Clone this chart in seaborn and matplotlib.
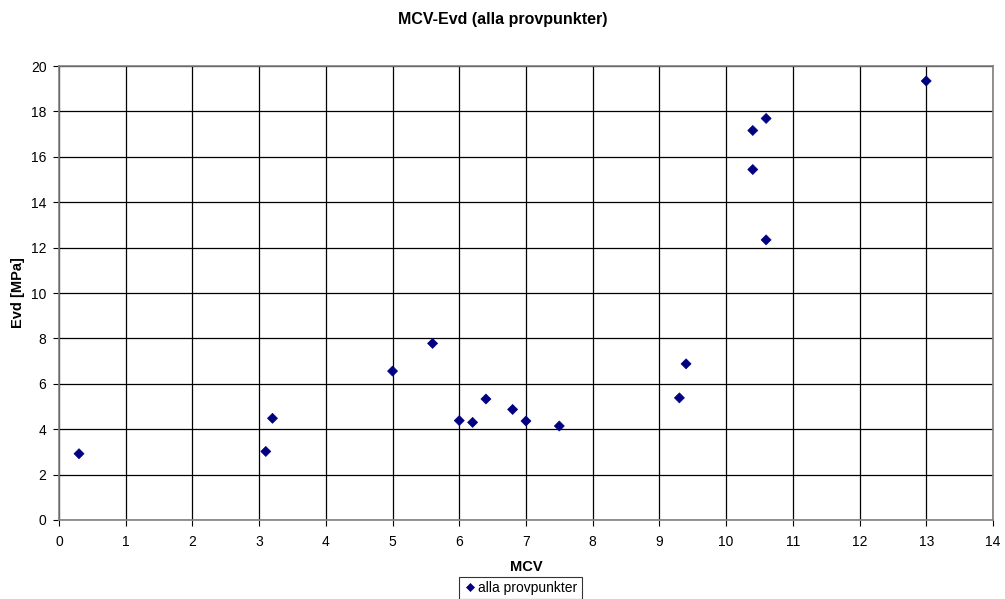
import matplotlib
matplotlib.use("Agg")
import matplotlib.pyplot as plt
import seaborn as sns
import pandas as pd

mcv = [0.3, 3.1, 3.2, 5.0, 5.6, 6.0, 6.2, 6.4, 6.8, 7.0, 7.5, 9.3, 9.4, 10.4, 10.4, 10.6, 10.6, 13.0]
evd = [2.92, 3.02, 4.48, 6.56, 7.78, 4.38, 4.30, 5.33, 4.87, 4.36, 4.14, 5.38, 6.88, 15.44, 17.16, 17.69, 12.34, 19.34]
series_name = "alla provpunkter"
title = "MCV-Evd (alla provpunkter)"
xlabel = "MCV"
ylabel = "Evd [MPa]"

sns.set_style("white")
plt.rcParams['font.family'] = ['Liberation Sans', 'DejaVu Sans']
plt.rcParams['text.color'] = 'black'
plt.rcParams['axes.labelcolor'] = 'black'
plt.rcParams['xtick.color'] = 'black'
plt.rcParams['ytick.color'] = 'black'

df = pd.DataFrame({"MCV": mcv, "Evd": evd, "serie": series_name})

fig = plt.figure(figsize=(10.05, 5.99), dpi=100)
ax = fig.add_axes([0.0587, 0.1319, 0.9293, 0.7579])
sns.scatterplot(data=df, x="MCV", y="Evd", hue="serie", palette=["#000080"],
                marker="D", s=26, edgecolor="#000080", linewidth=0.5, ax=ax)
ax.set_xlim(0, 14)
ax.set_ylim(0, 20)
ax.set_xticks(range(0, 15))
ax.set_yticks(range(0, 21, 2))
ax.grid(True, color="black", linewidth=0.9)
ax.set_axisbelow(True)
for s in ax.spines.values():
    s.set_color("#808080")
    s.set_linewidth(1.2)
ax.tick_params(axis="x", labelsize=10, length=4, pad=7, direction="out", color="black", bottom=True)
ax.tick_params(axis="y", labelsize=10, length=4, pad=5, direction="out", color="black", left=True)
ax.set_xlabel(xlabel, fontsize=10.5, fontweight="bold", labelpad=8)
ax.set_ylabel(ylabel, fontsize=10.5, fontweight="bold", labelpad=4)
fig.suptitle(title, fontsize=11.5, fontweight="bold", y=0.98)
leg = ax.legend(loc="upper center", bbox_to_anchor=(0.494, -0.125), frameon=True,
                fontsize=10, handletextpad=0.1, borderpad=0.3, handlelength=1.0,
                borderaxespad=0, fancybox=False, markerscale=0.8)
leg.get_frame().set_edgecolor("black")
leg.get_frame().set_linewidth(0.8)
fig.savefig("out.png", dpi=100)
